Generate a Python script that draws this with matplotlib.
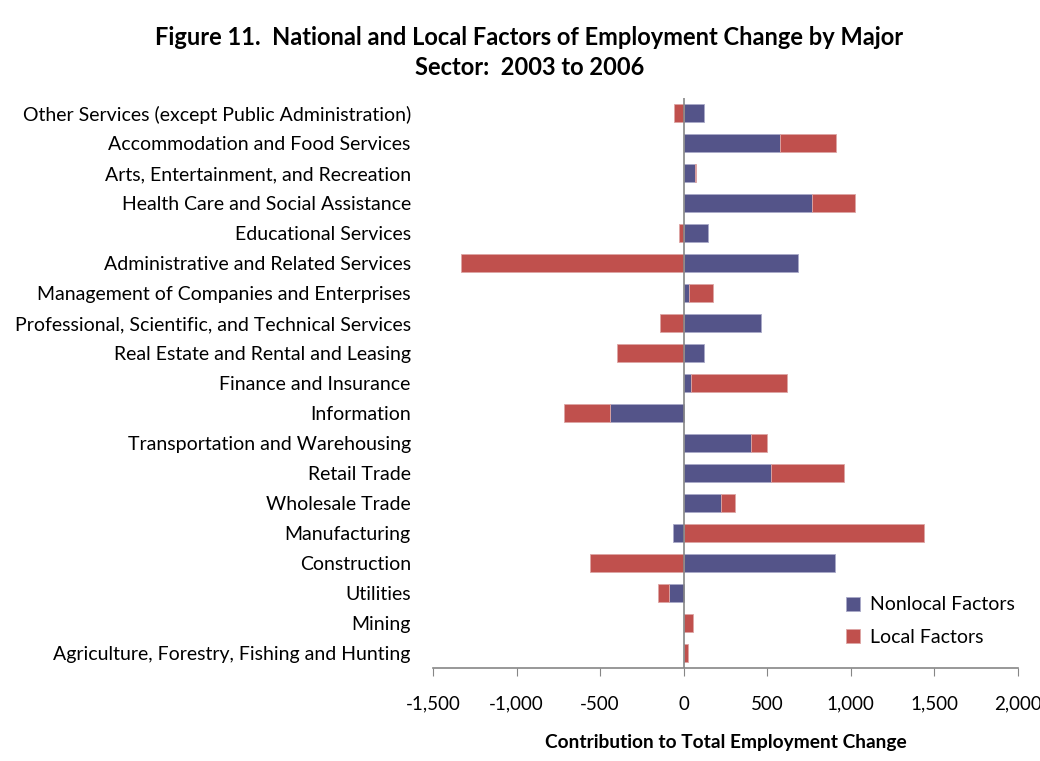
import matplotlib
matplotlib.use("Agg")
import matplotlib.pyplot as plt
import numpy as np

plt.rcParams['font.family'] = ['Lato', 'DejaVu Sans']

# Data, listed bottom to top
sectors = [
    "Agriculture, Forestry, Fishing and Hunting",
    "Mining",
    "Utilities",
    "Construction",
    "Manufacturing",
    "Wholesale Trade",
    "Retail Trade",
    "Transportation and Warehousing",
    "Information",
    "Finance and Insurance",
    "Real Estate and Rental and Leasing",
    "Professional, Scientific, and Technical Services",
    "Management of Companies and Enterprises",
    "Administrative and Related Services",
    "Educational Services",
    "Health Care and Social Assistance",
    "Arts, Entertainment, and Recreation",
    "Accommodation and Food Services",
    "Other Services (except Public Administration)",
]
nonlocal_factors = [0, 0, -88, 905, -66, 222, 522, 400, -441, 44, 122, 464, 34, 683, 148, 767, 66, 575, 122]
local_factors = [28, 56, -66, -561, 1439, 82, 438, 98, -274, 575, -399, -144, 144, -1333, -26, 260, 8, 337, -60]

xticks = [-1500, -1000, -500, 0, 500, 1000, 1500, 2000]
xtick_labels = ["-1,500", "-1,000", "-500", "0", "500", "1,000", "1,500", "2,000"]

blue = "#545489"
red = "#C0504D"

fig = plt.figure(figsize=(10.4, 7.61), dpi=100)
ax = fig.add_axes([433 / 1040, 1 - 668 / 761, (1018 - 433) / 1040, (668 - 98) / 761])

y = np.arange(len(sectors))
nl = np.array(nonlocal_factors, dtype=float)
lf = np.array(local_factors, dtype=float)
# Excel stacks positives and negatives separately
left_local = np.where(np.sign(nl) == np.sign(lf), nl, 0)

ax.barh(y, nl, height=0.6, color=blue, edgecolor="#A9A9C8", linewidth=0.6, label="Nonlocal Factors")
ax.barh(y, lf, left=left_local, height=0.6, color=red, edgecolor="#DDA5A4", linewidth=0.6, label="Local Factors")

ax.axvline(0, color="#868686", linewidth=1.2)
ax.set_xlim(-1500, 2000)
ax.set_ylim(-0.5, len(sectors) - 0.5)

ax.set_yticks(y)
ax.set_yticklabels(sectors, fontsize=14)
ax.tick_params(axis="y", length=0, pad=16)
ax.set_xticks(xticks)
ax.set_xticklabels(xtick_labels, fontsize=13.5)
ax.tick_params(axis="x", direction="out", length=6, color="#868686", pad=14)

for s in ["top", "right", "left"]:
    ax.spines[s].set_visible(False)
ax.spines["bottom"].set_color("#868686")
ax.spines["bottom"].set_linewidth(1.2)

ax.set_xlabel("Contribution to Total Employment Change", fontsize=13.8, fontweight="bold", labelpad=15)

fig.text(0.509, 0.966, "Figure 11.  National and Local Factors of Employment Change by Major\nSector:  2003 to 2006",
         ha="center", va="top", fontsize=17, fontweight="bold", linespacing=1.4)

ax.legend(loc="upper left", bbox_to_anchor=(828 / 1040, 1 - 579 / 761), bbox_transform=fig.transFigure,
          frameon=False, fontsize=14, handlelength=0.75, handleheight=0.75, handletextpad=0.5, labelspacing=0.8)

fig.savefig("out.png", dpi=100)
